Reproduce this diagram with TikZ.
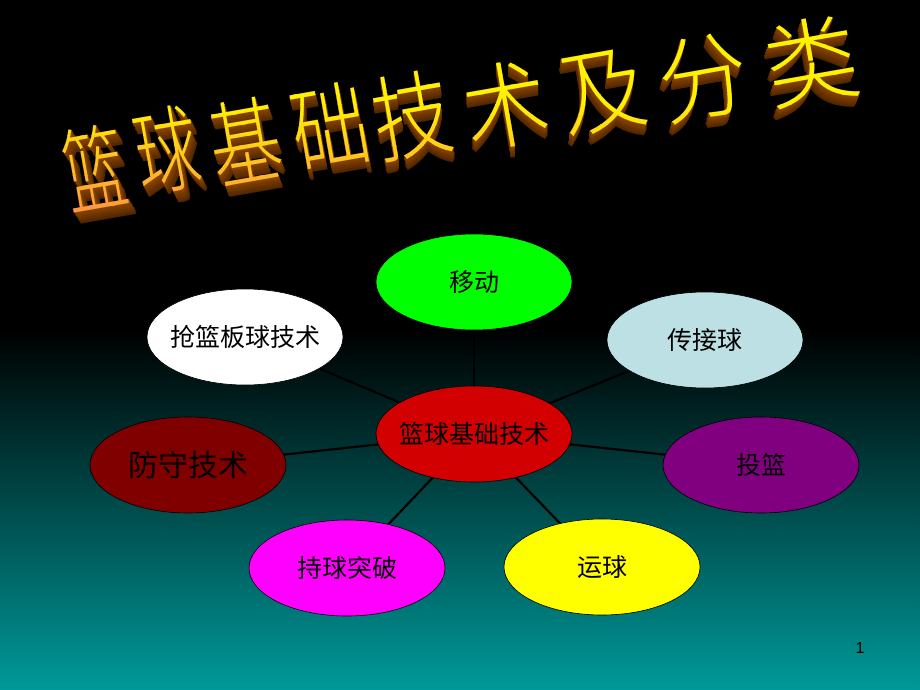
\documentclass[tikz,border=0pt]{standalone}
\usepackage{fontspec}
\newfontfamily\cjk{Noto Sans CJK SC}
\newfontfamily\cjkt{Noto Sans CJK SC Light}
\newfontfamily\arial{Liberation Sans}
\usetikzlibrary{shapes.geometric}
\pgfdeclarelayer{bg}
\pgfdeclarelayer{edges}
\pgfsetlayers{bg,edges,main}
\definecolor{teal0}{RGB}{0,153,153}
\definecolor{cred}{RGB}{210,0,0}
\definecolor{cmaroon}{RGB}{128,0,0}
\definecolor{cgreen}{RGB}{0,255,0}
\definecolor{clblue}{RGB}{188,224,228}
\definecolor{cpurple}{RGB}{128,0,128}
\definecolor{cyellow}{RGB}{255,255,0}
\definecolor{cmagenta}{RGB}{255,0,255}
\definecolor{tdark}{RGB}{70,32,0}
\definecolor{tlight}{RGB}{140,70,0}
\definecolor{ttop}{RGB}{255,242,0}
\definecolor{tbot}{RGB}{255,140,70}
\tikzset{
  bub/.style={ellipse, draw=black, line width=0.6pt, minimum width=196pt,
    minimum height=96pt, inner xsep=-20pt, inner ysep=0pt, text=black,
    font=\cjk\fontsize{25}{28}\selectfont},
  link/.style={line width=2.2pt, draw=black},
  tchar/.style={font=\cjkt\fontsize{94}{94}\selectfont, inner sep=0pt},
}
\newcommand{\titlelist}{篮/95/-167/0.66/5,球/167/-150/0.68/4,基/245/-141/0.76/3,础/330/-126/0.82/2,技/412/-115/0.84/1,术/506/-105/0.90/0,及/603/-92/0.92/-1,分/703/-78/0.95/-2,类/812/-61/1.0/-3}
\begin{document}
\begin{tikzpicture}[x=1pt,y=1pt]
\begin{pgfonlayer}{bg}
  \fill[black] (0,0) rectangle (920,-330);
  \shade[top color=black, bottom color=teal0] (0,-330) rectangle (920,-690);
\end{pgfonlayer}
\useasboundingbox (0,0) rectangle (920,-690);

% title extrusion
\foreach \k in {14,13,...,1}{
  \pgfmathsetmacro{\pc}{100-\k*6}
  \foreach \ch/\cx/\cy/\xs/\dx in \titlelist {
    \node[tchar, text=tlight!\pc!tdark, rotate=10, xscale=\xs]
      at (\cx+\dx*\k/10, \cy-\k*0.8) {\ch};
  }
}
% title face with vertical gradient
\foreach \b in {0,...,21}{
  \pgfmathsetmacro{\yt}{-5-\b*10}
  \pgfmathsetmacro{\yb}{-15-\b*10}
  \pgfmathsetmacro{\pc}{max(0,min(100,(\b*10-95)/120*100))}
  \begin{scope}
    \clip (0,\yt) rectangle (920,\yb);
    \foreach \ch/\cx/\cy/\xs/\dx in \titlelist {
      \node[tchar, text=tbot!\pc!ttop, rotate=10, xscale=\xs] at (\cx,\cy) {\ch};
    }
  \end{scope}
}

% nodes
\node[bub, fill=cred]     (c)  at (474,-434) {篮球基础技术};
\node[bub, fill=cgreen]   (m)  at (474,-282) {移动};
\node[bub, fill=clblue]   (p)  at (705,-340) {传接球};
\node[bub, fill=cpurple]  (s)  at (761,-465) {投篮};
\node[bub, fill=cyellow]  (d)  at (602,-567) {运球};
\node[bub, fill=cmagenta] (b)  at (347,-568) {持球突破};
\node[bub, fill=cmaroon, font=\cjk\fontsize{30}{32}\selectfont] (f) at (188,-465) {防守技术};
\node[bub, fill=white]    (r)  at (245,-337) {抢篮板球技术};

\begin{pgfonlayer}{edges}
  \foreach \t in {m,p,s,d,b,f,r}{
    \draw[link] (c.center) -- (\t.center);
  }
\end{pgfonlayer}

\node[font=\arial\fontsize{16}{16}\selectfont, text=black] (num) at (860,-648) {1};
\end{tikzpicture}
\end{document}
